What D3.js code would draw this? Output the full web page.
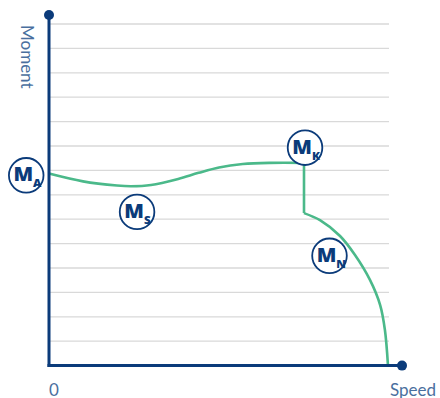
<!DOCTYPE html>
<html><head><meta charset="utf-8">
<script src="https://cdn.jsdelivr.net/npm/d3@7"></script>
<style>html,body{margin:0;padding:0;background:#fff;}svg{display:block;}</style>
</head><body>
<svg id="c" width="440" height="398"></svg>
<script>
// Data (speed in % of max, moment in grid units)
const speed  = [0, 10, 20, 24.1, 30, 38, 44, 50, 57, 65, 75, 75, 79.7, 85.6, 90, 94.4, 97.4, 98.8, 99.7];
const moment = [7.87, 7.55, 7.38, 7.35, 7.4, 7.65, 7.9, 8.12, 8.26, 8.31, 8.31, 6.25, 5.96, 5.31, 4.53, 3.51, 2.48, 1.46, 0];
const gridTicks = [1,2,3,4,5,6,7,8,9,10,11,12,13,14];
const markerLabels = ["A", "S", "K", "N"];
const markerSpeed  = [-6.7, 25.9, 75.3, 82.5];
const markerMoment = [7.8, 6.3, 8.93, 4.5];
const axisLabels = ["Moment", "Speed", "0"];

const svg = d3.select("#c");
const x = d3.scaleLinear().domain([0, 100]).range([49, 389]);
const y = d3.scaleLinear().domain([0, 14]).range([365.6, 24]);
const navy = "#0b3b7a";

// grid
svg.append("g").selectAll("line").data(gridTicks).join("line")
  .attr("x1", x(0)).attr("x2", x(100))
  .attr("y1", d => y(d)).attr("y2", d => y(d))
  .attr("stroke", "#d9d9d9").attr("stroke-width", 1.3);

// curve in three pieces
const pts = speed.map((s, i) => [s, moment[i]]);
const line = d3.line().x(d => x(d[0])).y(d => y(d[1]));
const green = "#4bb98a";
[[pts.slice(0, 11), d3.curveCatmullRom.alpha(0.5)], [pts.slice(10, 12), d3.curveLinear], [pts.slice(11), d3.curveCatmullRom.alpha(0.5)]]
  .forEach(([p, c]) => svg.append("path").attr("d", line.curve(c)(p))
    .attr("fill", "none").attr("stroke", green).attr("stroke-width", 2.6).attr("stroke-linejoin", "round"));

// axes
svg.append("line").attr("x1", x(0)).attr("x2", x(0)).attr("y1", 15).attr("y2", y(0) + 1.5)
  .attr("stroke", navy).attr("stroke-width", 3);
svg.append("line").attr("x1", x(0) - 1.5).attr("x2", 402).attr("y1", y(0)).attr("y2", y(0))
  .attr("stroke", navy).attr("stroke-width", 3);
svg.append("circle").attr("cx", x(0)).attr("cy", 15).attr("r", 5).attr("fill", navy);
svg.append("circle").attr("cx", 402).attr("cy", y(0)).attr("r", 5).attr("fill", navy);

// axis labels
const lblColor = "#4a6f9e";
const font = "Lato, 'Open Sans', sans-serif";
svg.append("text").attr("transform", "translate(21,25) rotate(90)")
  .attr("font-family", font).attr("font-size", 17).attr("fill", lblColor)
  .text(axisLabels[0]);
svg.append("text").attr("x", 390).attr("y", 396)
  .attr("font-family", font).attr("font-size", 17).attr("fill", lblColor)
  .text(axisLabels[1]);
svg.append("text").attr("x", 49).attr("y", 396)
  .attr("font-family", font).attr("font-size", 17).attr("fill", lblColor)
  .text(axisLabels[2]);

// markers
const mg = svg.append("g").selectAll("g").data(markerLabels).join("g")
  .attr("transform", (d, i) => `translate(${x(markerSpeed[i])},${y(markerMoment[i])})`);
mg.append("circle").attr("r", 17.3).attr("fill", "#fff").attr("stroke", navy).attr("stroke-width", 1.8);
const t = mg.append("text").attr("transform", "translate(-12.8,6) scale(1.1,1)")
  .attr("font-family", "'Open Sans', sans-serif").attr("font-weight", 800).attr("fill", navy);
t.append("tspan").attr("font-size", 18.5).text("M");
t.append("tspan").attr("font-size", 10.5).attr("dy", 6).attr("dx", 0).text(d => d);
</script>
</body></html>
